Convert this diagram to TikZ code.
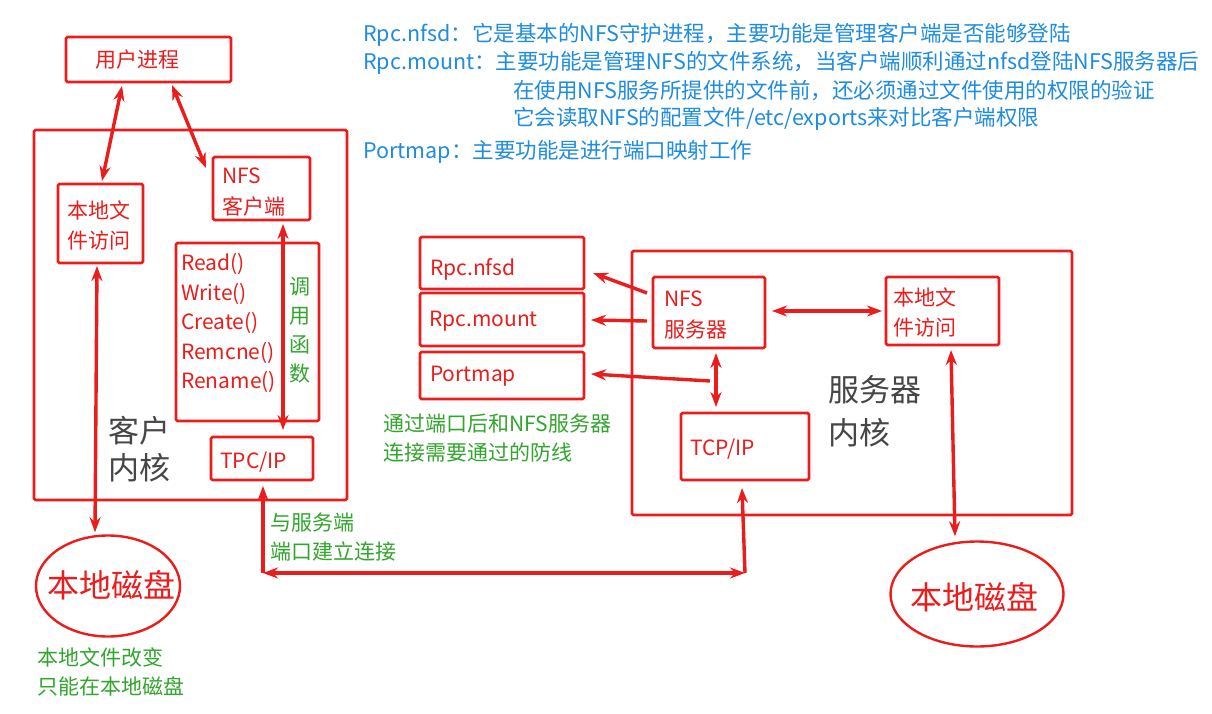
\documentclass[tikz,border=0pt]{standalone}
\usepackage{fontspec}
\setmainfont{Noto Sans CJK SC}
\usetikzlibrary{arrows.meta,shapes.geometric,calc}
\definecolor{myred}{RGB}{235,28,28}
\definecolor{myblue}{RGB}{30,140,225}
\definecolor{mygreen}{RGB}{50,165,45}
\definecolor{mygray}{RGB}{70,70,70}
\begin{document}
\begin{tikzpicture}[x=1pt,y=-1pt,
 box/.style={draw=myred, line width=2.8pt, rounded corners=1.5pt, anchor=north west, inner sep=0pt, outer sep=0pt},
 disk/.style={draw=myred, line width=2.4pt, ellipse, inner sep=0pt},
 txt/.style={anchor=west, inner sep=0pt, align=left},
 rtxt/.style={txt, text=myred, font=\fontsize{21}{30}\selectfont},
 btxt/.style={txt, text=myblue, font=\fontsize{21.5}{28}\selectfont},
 gtxt/.style={txt, text=mygreen, font=\fontsize{21}{29}\selectfont},
 ktxt/.style={txt, text=mygray, font=\fontsize{31}{37}\selectfont},
 arr/.style={draw=myred, line width=3.4pt, -{Stealth[length=15pt,width=11pt]}},
 darr/.style={draw=myred, line width=3.4pt, {Stealth[length=15pt,width=11pt]}-{Stealth[length=15pt,width=11pt]}},
]
\fill[white] (0,0) rectangle (1212,714);
\useasboundingbox (0,0) rectangle (1212,714);

% ---------- client side ----------
\node[box, minimum width=165pt, minimum height=45pt] (user) at (66,37) {};
\node[rtxt] (usert) at (95,60) {用户进程};

\node[box, minimum width=313pt, minimum height=370pt] (ckernel) at (34,130) {};
\node[ktxt] (ckt) at (108,449) {客户\\内核};

\node[box, minimum width=85pt, minimum height=79pt] (cfile) at (58,184) {};
\node[rtxt] (cfilet) at (67,225) {本地文\\件访问};

\node[box, minimum width=97pt, minimum height=63pt] (nfsc) at (213,157) {};
\node[rtxt, font=\fontsize{21}{31}\selectfont] (nfsct) at (222,192.5) {NFS\\客户端};

\node[box, minimum width=143pt, minimum height=178pt] (funcs) at (176,243) {};
\node[rtxt, font=\fontsize{21}{29.5}\selectfont] (funcst) at (181,323) {Read()\\Write()\\Create()\\Remcne()\\Rename()};
\node[gtxt] (callt) at (289,330) {调\\用\\函\\数};

\node[box, minimum width=102pt, minimum height=43pt] (tpc) at (211,437) {};
\node[rtxt] (tpct) at (220,462.5) {TPC/IP};

\node[disk, minimum width=144pt, minimum height=101pt] (cdisk) at (108,586) {};
\node[text=myred, font=\fontsize{32}{36}\selectfont, inner sep=0pt] (cdiskt) at (111,585) {本地磁盘};

\node[gtxt] (cnote) at (37,671.5) {本地文件改变\\只能在本地磁盘};
\node[gtxt] (connt) at (270,537.5) {与服务端\\端口建立连接};

% ---------- server side ----------
\node[box, minimum width=164pt, minimum height=52pt] (nfsd) at (420,237) {};
\node[rtxt] (nfsdt) at (430,269) {Rpc.nfsd};
\node[box, minimum width=164pt, minimum height=53pt] (mount) at (420,293) {};
\node[rtxt] (mountt) at (429,321) {Rpc.mount};
\node[box, minimum width=164pt, minimum height=47pt] (portmap) at (420,352) {};
\node[rtxt] (portmapt) at (430,376) {Portmap};
\node[gtxt] (fwt) at (383,438) {通过端口后和NFS服务器\\连接需要通过的防线};

\node[box, minimum width=440pt, minimum height=264pt] (skernel) at (632,251) {};
\node[ktxt, font=\fontsize{31}{43}\selectfont] (skt) at (828,411) {服务器\\内核};

\node[box, minimum width=112pt, minimum height=71pt] (nfss) at (653,277) {};
\node[rtxt, font=\fontsize{21}{31}\selectfont] (nfsst) at (664,315.5) {NFS\\服务器};

\node[box, minimum width=113pt, minimum height=68pt] (sfile) at (886,277) {};
\node[rtxt] (sfilet) at (893,312) {本地文\\件访问};

\node[box, minimum width=128pt, minimum height=67pt] (tcp) at (681,413) {};
\node[rtxt] (tcpt) at (690,449.5) {TCP/IP};

\node[disk, minimum width=173pt, minimum height=105pt] (sdisk) at (977,594) {};
\node[text=myred, font=\fontsize{32}{36}\selectfont, inner sep=0pt] (sdiskt) at (974,597) {本地磁盘};

% ---------- top notes ----------
\node[btxt] (n1) at (363,35) {Rpc.nfsd：它是基本的NFS守护进程，主要功能是管理客户端是否能够登陆};
\node[btxt] (n2) at (363,63) {Rpc.mount：主要功能是管理NFS的文件系统，当客户端顺利通过nfsd登陆NFS服务器后};
\node[btxt] (n3) at (513,91) {在使用NFS服务所提供的文件前，还必须通过文件使用的权限的验证};
\node[btxt] (n4) at (513,119) {它会读取NFS的配置文件/etc/exports来对比客户端权限};
\node[btxt] (n5) at (363,152) {Portmap：主要功能是进行端口映射工作};

% ---------- connectors ----------
\draw[darr] ([shift={(56,4)}]user.south west) -- ([shift={(44,-3)}]cfile.north west);
\draw[darr] ([shift={(106,3)}]user.south west) -- ([shift={(-7,11)}]nfsc.north west);
\draw[darr] ([shift={(70,4)}]nfsc.south west) -- ([shift={(72,-7)}]tpc.north west);
\draw[darr] ([shift={(39,3)}]cfile.south west) -- ([shift={(-13,-2)}]cdisk.north);

\coordinate (cl) at ([shift={(52,93)}]tpc.south west);
\coordinate (cr) at ([shift={(64,93)}]tcp.south west);
\draw[arr] (cl) -- ([shift={(52,6)}]tpc.south west);
\draw[arr] (cr) -- ([shift={(61,8)}]tcp.south west);
\draw[darr] (cl) -- (cr);

\draw[arr] ([shift={(-6,16)}]nfss.north west) -- ([shift={(9,36)}]nfsd.north east);
\draw[arr] ([shift={(-6,44)}]nfss.north west) -- ([shift={(7,27)}]mount.north east);
\draw[arr] ([shift={(57,33)}]nfss.south west) -- ([shift={(7,22)}]portmap.north east);
\draw[darr] ([shift={(63,5)}]nfss.south west) -- ([shift={(35,-6)}]tcp.north west);
\draw[darr] ([shift={(7,34)}]nfss.north east) -- ([shift={(-4,34)}]sfile.north west);
\draw[darr] ([shift={(65,5)}]sfile.south west) -- ([shift={(-22,-4)}]sdisk.north);
\end{tikzpicture}
\end{document}
